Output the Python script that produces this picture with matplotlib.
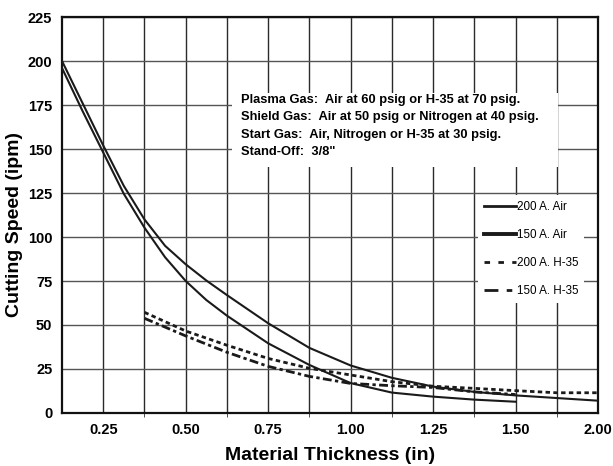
import numpy as np
import matplotlib
matplotlib.use('Agg')
import matplotlib.pyplot as plt
from matplotlib.patches import Rectangle

plt.rcParams['font.family'] = ['Liberation Sans', 'DejaVu Sans']

# grid positions of the (non-uniform) thickness axis
X_GRID = [0.125, 0.25, 0.375, 0.5, 0.625, 0.75, 0.875, 1.0,
          1.125, 1.25, 1.375, 1.5, 1.75, 2.0]
X_TICKS = [0.25, 0.5, 0.75, 1.0, 1.25, 1.5, 2.0]
X_TICK_LABELS = ['0.25', '0.50', '0.75', '1.00', '1.25', '1.50', '2.00']
X_MINOR = [0.375, 0.625, 0.875, 1.125, 1.375, 1.75]
Y_TICKS = [0, 25, 50, 75, 100, 125, 150, 175, 200, 225]

# 200 A. Air
air200_x = [0.125, 0.1875, 0.25, 0.3125, 0.375, 0.4375, 0.5, 0.5625, 0.625,
            0.75, 0.875, 1.0, 1.125, 1.25, 1.375, 1.5, 1.75, 2.0]
air200_y = [200, 176, 152, 129, 110, 95, 84.5, 75.3, 67,
            51, 37, 27, 20, 15, 12, 10, 8.5, 7]

# 150 A. Air
air150_x = [0.125, 0.1875, 0.25, 0.3125, 0.375, 0.4375, 0.5, 0.5625, 0.625,
            0.75, 0.875, 1.0, 1.125, 1.25, 1.375, 1.5]
air150_y = [196, 171.5, 148, 124.5, 105.3, 88.5, 75, 64.2, 55.3,
            39.6, 27.3, 17, 11.6, 9.3, 7.6, 6.4]

# 200 A. H-35
h200_x = [0.375, 0.5, 0.625, 0.75, 0.875, 1.0, 1.125, 1.25, 1.375, 1.5, 1.75, 2.0]
h200_y = [57.2, 46.6, 38.5, 31, 25.4, 21.6, 17.8, 15.2, 14, 12.7, 11.5, 11.5]

# 150 A. H-35
h150_x = [0.375, 0.5, 0.625, 0.75, 0.875, 1.0, 1.125, 1.25, 1.375, 1.5]
h150_y = [53.8, 43.8, 34.5, 26.5, 20.8, 16.8, 15.5, 14.5, 12, 10.5]

NOTE = ('Plasma Gas:  Air at 60 psig or H-35 at 70 psig.\n'
        'Shield Gas:  Air at 50 psig or Nitrogen at 40 psig.\n'
        'Start Gas:  Air, Nitrogen or H-35 at 30 psig.\n'
        'Stand-Off:  3/8"')

idx = np.arange(len(X_GRID), dtype=float)


def fwd(x):
    return np.interp(x, X_GRID, idx)


def inv(i):
    return np.interp(i, idx, X_GRID)


fig = plt.figure(figsize=(6.13, 4.66), dpi=100)
ax = fig.add_axes([62 / 613, 1 - 413 / 466, 536 / 613, 396 / 466])
ax.set_xscale('function', functions=(fwd, inv))
ax.set_xlim(0.125, 2.0)
ax.set_ylim(0, 225)

lw = 1.5
ax.plot(air200_x, air200_y, color='#1a1a1a', lw=lw, label='200 A. Air', zorder=3)
ax.plot(air150_x, air150_y, color='#1a1a1a', lw=lw, label='150 A. Air', zorder=3)
ax.plot(h200_x, h200_y, color='#1a1a1a', lw=2.0, linestyle=(0, (1.6, 1.2)),
        label='200 A. H-35', zorder=3)
ax.plot(h150_x, h150_y, color='#1a1a1a', lw=2.0, linestyle=(0, (3.2, 1.2, 1.2, 1.2)),
        label='150 A. H-35', zorder=3)

# axes styling
ax.set_xticks(X_TICKS, labels=X_TICK_LABELS)
ax.set_xticks(X_MINOR, minor=True)
ax.set_yticks(Y_TICKS)
ax.set_axisbelow(True)
ax.xaxis.grid(True, which='both', color='#2a2a2a', lw=1.0)
ax.yaxis.grid(True, which='major', color='#555555', lw=1.0)
ax.tick_params(axis='both', which='major', length=0, pad=7, labelsize=10.5)
ax.tick_params(axis='x', which='minor', length=3, direction='out', color='#333333')
for lab in ax.get_xticklabels() + ax.get_yticklabels():
    lab.set_fontweight('bold')
for sp in ax.spines.values():
    sp.set_linewidth(1.6)
    sp.set_color('#111111')

ax.set_xlabel('Material Thickness (in)', fontsize=14, fontweight='bold')
ax.xaxis.set_label_coords(0.5, -0.087)
ax.set_ylabel('Cutting Speed (ipm)', fontsize=14, fontweight='bold')
ax.yaxis.set_label_coords(-0.072, 0.475)

# conditions box
ax.add_patch(Rectangle((0.317, 0.621), 0.608, 0.187, transform=ax.transAxes,
                       facecolor='white', edgecolor='none', zorder=1))
ax.text(0.334, 0.806, NOTE, transform=ax.transAxes, ha='left', va='top',
        fontsize=9.3, fontweight='bold', linespacing=1.6, zorder=4)

leg = ax.legend(loc='upper left', bbox_to_anchor=(0.776, 0.55), frameon=True,
                fancybox=False, edgecolor='none', facecolor='white', framealpha=1,
                fontsize=8.4, handlelength=2.8, handletextpad=0.05, labelspacing=1.38,
                borderpad=0.5, borderaxespad=0)
hl = leg.get_lines()
hl[0].set_linewidth(2.0)
hl[1].set_linewidth(2.8)
hl[2].set_linestyle((0, (2, 3)))
hl[3].set_linestyle((0, (5, 3, 2, 3)))

fig.savefig('out.png', dpi=100)
